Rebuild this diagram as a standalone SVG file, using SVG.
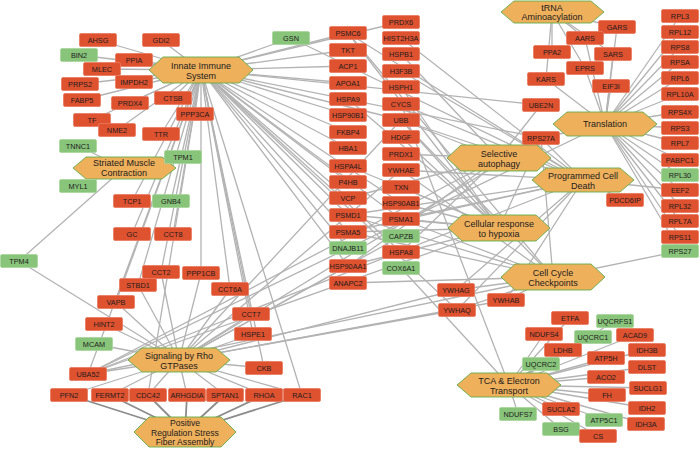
<svg xmlns="http://www.w3.org/2000/svg" width="700" height="449" viewBox="0 0 700 449">
<style>
.e line{stroke:#b3b3b3;stroke-width:1.3}
.e .d{stroke:#8c8c8c;stroke-width:1.8}
.r rect{fill:#df5230;stroke:#ea7a5e;stroke-width:.8}
.g rect{fill:#89c47b;stroke:#a8d69c;stroke-width:.8}
.h polygon{fill:#efb05c;stroke:#62ad48;stroke-width:.9}
text{font-family:"Liberation Sans",Arial,sans-serif;font-size:7.3px;text-anchor:middle;fill:#1c1c1c}
.h text{font-size:9px}
.h .s{font-size:8.6px}
</style>
<rect width="700" height="449" fill="#fff"/>
<g id="edges" class="e">
<line x1="201" y1="70" x2="98" y2="40"/><line x1="201" y1="70" x2="161" y2="40"/><line x1="201" y1="70" x2="79" y2="55"/><line x1="201" y1="70" x2="134" y2="60"/><line x1="201" y1="70" x2="102" y2="69"/><line x1="201" y1="70" x2="80" y2="84"/><line x1="201" y1="70" x2="134" y2="82"/><line x1="201" y1="70" x2="82" y2="100"/><line x1="201" y1="70" x2="130" y2="103"/><line x1="201" y1="70" x2="173" y2="98"/><line x1="201" y1="70" x2="92" y2="120"/><line x1="201" y1="70" x2="117" y2="130"/><line x1="201" y1="70" x2="161" y2="134"/><line x1="201" y1="70" x2="195" y2="114"/><line x1="201" y1="70" x2="291" y2="38"/><line x1="201" y1="70" x2="348" y2="33"/><line x1="201" y1="70" x2="348" y2="50"/><line x1="201" y1="70" x2="348" y2="66"/><line x1="201" y1="70" x2="348" y2="83"/><line x1="201" y1="70" x2="348" y2="115"/><line x1="201" y1="70" x2="348" y2="132"/><line x1="201" y1="70" x2="348" y2="148"/><line x1="201" y1="70" x2="401" y2="22"/><line x1="201" y1="70" x2="401" y2="252"/><line x1="201" y1="70" x2="348" y2="266"/><line x1="201" y1="70" x2="401" y2="203"/><line x1="201" y1="70" x2="348" y2="215"/><line x1="201" y1="70" x2="348" y2="232"/><line x1="201" y1="70" x2="401" y2="219"/><line x1="201" y1="70" x2="401" y2="120"/><line x1="201" y1="70" x2="348" y2="198"/><line x1="201" y1="70" x2="348" y2="182"/><line x1="201" y1="70" x2="348" y2="248"/><line x1="201" y1="70" x2="173" y2="234"/><line x1="201" y1="70" x2="161" y2="272"/><line x1="201" y1="70" x2="138" y2="285"/><line x1="201" y1="70" x2="132" y2="201"/><line x1="201" y1="70" x2="132" y2="234"/><line x1="201" y1="70" x2="171" y2="201"/><line x1="201" y1="70" x2="116" y2="302"/><line x1="201" y1="70" x2="201" y2="273"/><line x1="201" y1="70" x2="230" y2="289"/><line x1="201" y1="70" x2="264" y2="368"/><line x1="201" y1="70" x2="302" y2="395"/><line x1="201" y1="70" x2="148" y2="395"/><line x1="201" y1="70" x2="88" y2="374"/><line x1="201" y1="70" x2="457" y2="310"/><line x1="201" y1="70" x2="251" y2="314"/><line x1="201" y1="70" x2="253" y2="334"/><line x1="201" y1="70" x2="541" y2="138"/><line x1="201" y1="70" x2="541" y2="105"/>
<line x1="124" y1="168" x2="78" y2="146"/><line x1="124" y1="168" x2="183" y2="157"/><line x1="124" y1="168" x2="78" y2="186"/><line x1="124" y1="168" x2="19" y2="261"/>
<line x1="179" y1="360" x2="19" y2="261"/><line x1="179" y1="360" x2="116" y2="302"/><line x1="179" y1="360" x2="104" y2="324"/><line x1="179" y1="360" x2="94" y2="344"/><line x1="179" y1="360" x2="88" y2="374"/><line x1="179" y1="360" x2="69" y2="395"/><line x1="179" y1="360" x2="148" y2="395"/><line x1="179" y1="360" x2="187" y2="395"/><line x1="179" y1="360" x2="264" y2="395"/><line x1="179" y1="360" x2="302" y2="395"/><line x1="179" y1="360" x2="264" y2="368"/><line x1="179" y1="360" x2="251" y2="314"/><line x1="179" y1="360" x2="253" y2="334"/><line x1="179" y1="360" x2="230" y2="289"/><line x1="179" y1="360" x2="201" y2="273"/><line x1="179" y1="360" x2="138" y2="285"/><line x1="179" y1="360" x2="506" y2="300"/><line x1="179" y1="360" x2="401" y2="170"/><line x1="179" y1="360" x2="456" y2="290"/><line x1="179" y1="360" x2="457" y2="310"/><line x1="179" y1="360" x2="541" y2="138"/><line x1="179" y1="360" x2="401" y2="120"/><line x1="179" y1="360" x2="348" y2="266"/><line x1="179" y1="360" x2="401" y2="236"/><line x1="179" y1="360" x2="161" y2="272"/><line x1="179" y1="360" x2="225" y2="395"/><line x1="179" y1="360" x2="110" y2="395"/>
<line class="d" x1="185" y1="432" x2="69" y2="395"/><line class="d" x1="185" y1="432" x2="110" y2="395"/><line class="d" x1="185" y1="432" x2="148" y2="395"/><line class="d" x1="185" y1="432" x2="187" y2="395"/><line class="d" x1="185" y1="432" x2="225" y2="395"/><line class="d" x1="185" y1="432" x2="264" y2="395"/><line class="d" x1="185" y1="432" x2="302" y2="395"/>
<line x1="605" y1="124" x2="680" y2="16"/><line x1="605" y1="124" x2="680" y2="32"/><line x1="605" y1="124" x2="680" y2="47"/><line x1="605" y1="124" x2="680" y2="62"/><line x1="605" y1="124" x2="680" y2="78"/><line x1="605" y1="124" x2="680" y2="94"/><line x1="605" y1="124" x2="680" y2="112"/><line x1="605" y1="124" x2="680" y2="128"/><line x1="605" y1="124" x2="680" y2="143"/><line x1="605" y1="124" x2="680" y2="160"/><line x1="605" y1="124" x2="680" y2="175"/><line x1="605" y1="124" x2="680" y2="190"/><line x1="605" y1="124" x2="680" y2="206"/><line x1="605" y1="124" x2="680" y2="221"/><line x1="605" y1="124" x2="680" y2="237"/><line x1="605" y1="124" x2="680" y2="251"/><line x1="605" y1="124" x2="541" y2="138"/><line x1="605" y1="124" x2="88" y2="374"/><line x1="605" y1="124" x2="611" y2="86"/><line x1="605" y1="124" x2="617" y2="27"/><line x1="605" y1="124" x2="585" y2="38"/><line x1="605" y1="124" x2="613" y2="54"/><line x1="605" y1="124" x2="585" y2="68"/><line x1="605" y1="124" x2="546" y2="79"/>
<line x1="552" y1="12" x2="617" y2="27"/><line x1="552" y1="12" x2="585" y2="38"/><line x1="552" y1="12" x2="552" y2="52"/><line x1="552" y1="12" x2="613" y2="54"/><line x1="552" y1="12" x2="585" y2="68"/><line x1="552" y1="12" x2="546" y2="79"/>
<line x1="499" y1="158" x2="401" y2="120"/><line x1="499" y1="158" x2="88" y2="374"/><line x1="499" y1="158" x2="541" y2="138"/><line x1="499" y1="158" x2="541" y2="105"/><line x1="499" y1="158" x2="348" y2="198"/><line x1="499" y1="158" x2="401" y2="252"/><line x1="499" y1="158" x2="348" y2="266"/><line x1="499" y1="158" x2="401" y2="154"/><line x1="499" y1="158" x2="401" y2="54"/>
<line x1="583" y1="180" x2="401" y2="104"/><line x1="583" y1="180" x2="401" y2="170"/><line x1="583" y1="180" x2="506" y2="300"/><line x1="583" y1="180" x2="456" y2="290"/><line x1="583" y1="180" x2="457" y2="310"/><line x1="583" y1="180" x2="401" y2="120"/><line x1="583" y1="180" x2="88" y2="374"/><line x1="583" y1="180" x2="541" y2="138"/><line x1="583" y1="180" x2="401" y2="219"/><line x1="583" y1="180" x2="348" y2="232"/><line x1="583" y1="180" x2="348" y2="215"/><line x1="583" y1="180" x2="348" y2="33"/><line x1="583" y1="180" x2="291" y2="38"/><line x1="583" y1="180" x2="625" y2="200"/><line x1="583" y1="180" x2="401" y2="71"/><line x1="583" y1="180" x2="401" y2="38"/><line x1="583" y1="180" x2="680" y2="190"/>
<line x1="499" y1="228" x2="401" y2="120"/><line x1="499" y1="228" x2="88" y2="374"/><line x1="499" y1="228" x2="541" y2="138"/><line x1="499" y1="228" x2="401" y2="219"/><line x1="499" y1="228" x2="348" y2="232"/><line x1="499" y1="228" x2="348" y2="215"/><line x1="499" y1="228" x2="348" y2="33"/><line x1="499" y1="228" x2="348" y2="266"/><line x1="499" y1="228" x2="401" y2="203"/><line x1="499" y1="228" x2="401" y2="187"/><line x1="499" y1="228" x2="401" y2="87"/><line x1="499" y1="228" x2="348" y2="99"/><line x1="499" y1="228" x2="401" y2="137"/><line x1="499" y1="228" x2="348" y2="166"/>
<line x1="553" y1="277" x2="506" y2="300"/><line x1="553" y1="277" x2="401" y2="170"/><line x1="553" y1="277" x2="456" y2="290"/><line x1="553" y1="277" x2="457" y2="310"/><line x1="553" y1="277" x2="348" y2="283"/><line x1="553" y1="277" x2="401" y2="120"/><line x1="553" y1="277" x2="88" y2="374"/><line x1="553" y1="277" x2="541" y2="138"/><line x1="553" y1="277" x2="401" y2="219"/><line x1="553" y1="277" x2="348" y2="232"/><line x1="553" y1="277" x2="348" y2="215"/><line x1="553" y1="277" x2="348" y2="33"/><line x1="553" y1="277" x2="680" y2="251"/>
<line x1="509" y1="385" x2="570" y2="318"/><line x1="509" y1="385" x2="615" y2="321"/><line x1="509" y1="385" x2="544" y2="334"/><line x1="509" y1="385" x2="593" y2="337"/><line x1="509" y1="385" x2="635" y2="335"/><line x1="509" y1="385" x2="563" y2="350"/><line x1="509" y1="385" x2="647" y2="350"/><line x1="509" y1="385" x2="606" y2="358"/><line x1="509" y1="385" x2="541" y2="364"/><line x1="509" y1="385" x2="647" y2="367"/><line x1="509" y1="385" x2="606" y2="377"/><line x1="509" y1="385" x2="648" y2="388"/><line x1="509" y1="385" x2="607" y2="395"/><line x1="509" y1="385" x2="647" y2="408"/><line x1="509" y1="385" x2="561" y2="409"/><line x1="509" y1="385" x2="604" y2="420"/><line x1="509" y1="385" x2="646" y2="424"/><line x1="509" y1="385" x2="561" y2="429"/><line x1="509" y1="385" x2="598" y2="436"/><line x1="509" y1="385" x2="518" y2="414"/><line x1="509" y1="385" x2="401" y2="268"/><line x1="509" y1="385" x2="401" y2="104"/>
</g>
<g id="innate-immune-system" class="h"><polygon points="149,70 163,57 239,57 253,70 239,83 163,83"/><text x="201" y="69">Innate Immune</text><text x="201" y="79">System</text></g>
<g id="striated-muscle-contraction" class="h"><polygon points="73,168 86,157 162,157 176,168 162,179 86,179"/><text x="124" y="166">Striated Muscle</text><text x="124" y="176">Contraction</text></g>
<g id="trna-aminoacylation" class="h"><polygon points="501,12 514,1 591,1 604,12 591,23 514,23"/><text x="552" y="10.5">tRNA</text><text x="552" y="20">Aminoacylation</text></g>
<g id="translation" class="h"><polygon points="553,124 567,112 643,112 657,124 643,136 567,136"/><text x="605" y="127">Translation</text></g>
<g id="selective-autophagy" class="h"><polygon points="447,158 461,145 537,145 551,158 537,171 461,171"/><text x="499" y="156.5">Selective</text><text x="499" y="166.5">autophagy</text></g>
<g id="programmed-cell-death" class="h"><polygon points="532,180 546,168 620,168 634,180 620,192 546,192"/><text x="583" y="178.5">Programmed Cell</text><text x="583" y="188.5">Death</text></g>
<g id="cellular-response-to-hypoxia" class="h"><polygon points="448,228 462,215 536,215 550,228 536,241 462,241"/><text x="499" y="226.5">Cellular response</text><text x="499" y="236.5">to hypoxia</text></g>
<g id="cell-cycle-checkpoints" class="h"><polygon points="501,277 515,264 591,264 605,277 591,290 515,290"/><text x="553" y="275.5">Cell Cycle</text><text x="553" y="285.5">Checkpoints</text></g>
<g id="signaling-by-rho-gtpases" class="h"><polygon points="128,360 142,348 216,348 230,360 216,372 142,372"/><text x="179" y="358.5">Signaling by Rho</text><text x="179" y="368.5">GTPases</text></g>
<g id="positive-regulation-stress-fiber-assembly" class="h"><polygon points="134,432 149,417 221,417 236,432 221,447 149,447"/><text class="s" x="185" y="426">Positive</text><text class="s" x="185" y="435.5">Regulation Stress</text><text class="s" x="185" y="445">Fiber Assembly</text></g>
<g id="tca-electron-transport" class="h"><polygon points="457,385 471,373 547,373 561,385 547,397 471,397"/><text x="509" y="383.5">TCA &amp; Electron</text><text x="509" y="393.5">Transport</text></g>
<g id="AHSG" class="r"><rect x="79.5" y="33.5" width="37" height="13" rx="1.5"/><text x="98" y="42.6">AHSG</text></g>
<g id="GDI2" class="r"><rect x="142.5" y="33.5" width="37" height="13" rx="1.5"/><text x="161" y="42.6">GDI2</text></g>
<g id="BIN2" class="g"><rect x="60.5" y="48.5" width="37" height="13" rx="1.5"/><text x="79" y="57.6">BIN2</text></g>
<g id="PPIA" class="r"><rect x="115.5" y="53.5" width="37" height="13" rx="1.5"/><text x="134" y="62.6">PPIA</text></g>
<g id="MLEC" class="r"><rect x="83.5" y="62.5" width="37" height="13" rx="1.5"/><text x="102" y="71.6">MLEC</text></g>
<g id="PRPS2" class="r"><rect x="61.5" y="77.5" width="37" height="13" rx="1.5"/><text x="80" y="86.6">PRPS2</text></g>
<g id="IMPDH2" class="r"><rect x="115.5" y="75.5" width="37" height="13" rx="1.5"/><text x="134" y="84.6">IMPDH2</text></g>
<g id="FABP5" class="r"><rect x="63.5" y="93.5" width="37" height="13" rx="1.5"/><text x="82" y="102.6">FABP5</text></g>
<g id="PRDX4" class="r"><rect x="111.5" y="96.5" width="37" height="13" rx="1.5"/><text x="130" y="105.6">PRDX4</text></g>
<g id="CTSB" class="r"><rect x="154.5" y="91.5" width="37" height="13" rx="1.5"/><text x="173" y="100.6">CTSB</text></g>
<g id="TF" class="r"><rect x="73.5" y="113.5" width="37" height="13" rx="1.5"/><text x="92" y="122.6">TF</text></g>
<g id="NME2" class="r"><rect x="98.5" y="123.5" width="37" height="13" rx="1.5"/><text x="117" y="132.6">NME2</text></g>
<g id="TTR" class="r"><rect x="142.5" y="127.5" width="37" height="13" rx="1.5"/><text x="161" y="136.6">TTR</text></g>
<g id="PPP3CA" class="r"><rect x="176.5" y="107.5" width="37" height="13" rx="1.5"/><text x="195" y="116.6">PPP3CA</text></g>
<g id="GSN" class="g"><rect x="272.5" y="31.5" width="37" height="13" rx="1.5"/><text x="291" y="40.6">GSN</text></g>
<g id="TNNC1" class="g"><rect x="59.5" y="139.5" width="37" height="13" rx="1.5"/><text x="78" y="148.6">TNNC1</text></g>
<g id="TPM1" class="g"><rect x="164.5" y="150.5" width="37" height="13" rx="1.5"/><text x="183" y="159.6">TPM1</text></g>
<g id="MYL1" class="g"><rect x="59.5" y="179.5" width="37" height="13" rx="1.5"/><text x="78" y="188.6">MYL1</text></g>
<g id="TCP1" class="r"><rect x="113.5" y="194.5" width="37" height="13" rx="1.5"/><text x="132" y="203.6">TCP1</text></g>
<g id="GNB4" class="g"><rect x="152.5" y="194.5" width="37" height="13" rx="1.5"/><text x="171" y="203.6">GNB4</text></g>
<g id="GC" class="r"><rect x="113.5" y="227.5" width="37" height="13" rx="1.5"/><text x="132" y="236.6">GC</text></g>
<g id="CCT8" class="r"><rect x="154.5" y="227.5" width="37" height="13" rx="1.5"/><text x="173" y="236.6">CCT8</text></g>
<g id="TPM4" class="g"><rect x="0.5" y="254.5" width="37" height="13" rx="1.5"/><text x="19" y="263.6">TPM4</text></g>
<g id="CCT2" class="r"><rect x="142.5" y="265.5" width="37" height="13" rx="1.5"/><text x="161" y="274.6">CCT2</text></g>
<g id="PPP1CB" class="r"><rect x="182.5" y="266.5" width="37" height="13" rx="1.5"/><text x="201" y="275.6">PPP1CB</text></g>
<g id="STBD1" class="r"><rect x="119.5" y="278.5" width="37" height="13" rx="1.5"/><text x="138" y="287.6">STBD1</text></g>
<g id="CCT6A" class="r"><rect x="211.5" y="282.5" width="37" height="13" rx="1.5"/><text x="230" y="291.6">CCT6A</text></g>
<g id="VAPB" class="r"><rect x="97.5" y="295.5" width="37" height="13" rx="1.5"/><text x="116" y="304.6">VAPB</text></g>
<g id="HINT2" class="r"><rect x="85.5" y="317.5" width="37" height="13" rx="1.5"/><text x="104" y="326.6">HINT2</text></g>
<g id="MCAM" class="g"><rect x="75.5" y="337.5" width="37" height="13" rx="1.5"/><text x="94" y="346.6">MCAM</text></g>
<g id="UBA52" class="r"><rect x="69.5" y="367.5" width="37" height="13" rx="1.5"/><text x="88" y="376.6">UBA52</text></g>
<g id="CCT7" class="r"><rect x="232.5" y="307.5" width="37" height="13" rx="1.5"/><text x="251" y="316.6">CCT7</text></g>
<g id="HSPE1" class="r"><rect x="234.5" y="327.5" width="37" height="13" rx="1.5"/><text x="253" y="336.6">HSPE1</text></g>
<g id="CKB" class="r"><rect x="245.5" y="361.5" width="37" height="13" rx="1.5"/><text x="264" y="370.6">CKB</text></g>
<g id="PFN2" class="r"><rect x="50.5" y="388.5" width="37" height="13" rx="1.5"/><text x="69" y="397.6">PFN2</text></g>
<g id="FERMT2" class="r"><rect x="91.5" y="388.5" width="37" height="13" rx="1.5"/><text x="110" y="397.6">FERMT2</text></g>
<g id="CDC42" class="r"><rect x="129.5" y="388.5" width="37" height="13" rx="1.5"/><text x="148" y="397.6">CDC42</text></g>
<g id="ARHGDIA" class="r"><rect x="168.5" y="388.5" width="37" height="13" rx="1.5"/><text x="187" y="397.6">ARHGDIA</text></g>
<g id="SPTAN1" class="r"><rect x="206.5" y="388.5" width="37" height="13" rx="1.5"/><text x="225" y="397.6">SPTAN1</text></g>
<g id="RHOA" class="r"><rect x="245.5" y="388.5" width="37" height="13" rx="1.5"/><text x="264" y="397.6">RHOA</text></g>
<g id="RAC1" class="r"><rect x="283.5" y="388.5" width="37" height="13" rx="1.5"/><text x="302" y="397.6">RAC1</text></g>
<g id="PSMC6" class="r"><rect x="329.5" y="26.5" width="37" height="13" rx="1.5"/><text x="348" y="35.6">PSMC6</text></g>
<g id="TKT" class="r"><rect x="329.5" y="43.5" width="37" height="13" rx="1.5"/><text x="348" y="52.6">TKT</text></g>
<g id="ACP1" class="r"><rect x="329.5" y="59.5" width="37" height="13" rx="1.5"/><text x="348" y="68.6">ACP1</text></g>
<g id="APOA1" class="r"><rect x="329.5" y="76.5" width="37" height="13" rx="1.5"/><text x="348" y="85.6">APOA1</text></g>
<g id="HSPA9" class="r"><rect x="329.5" y="92.5" width="37" height="13" rx="1.5"/><text x="348" y="101.6">HSPA9</text></g>
<g id="HSP90B1" class="r"><rect x="329.5" y="108.5" width="37" height="13" rx="1.5"/><text x="348" y="117.6">HSP90B1</text></g>
<g id="FKBP4" class="r"><rect x="329.5" y="125.5" width="37" height="13" rx="1.5"/><text x="348" y="134.6">FKBP4</text></g>
<g id="HBA1" class="r"><rect x="329.5" y="141.5" width="37" height="13" rx="1.5"/><text x="348" y="150.6">HBA1</text></g>
<g id="HSPA4L" class="r"><rect x="329.5" y="159.5" width="37" height="13" rx="1.5"/><text x="348" y="168.6">HSPA4L</text></g>
<g id="P4HB" class="r"><rect x="329.5" y="175.5" width="37" height="13" rx="1.5"/><text x="348" y="184.6">P4HB</text></g>
<g id="VCP" class="r"><rect x="329.5" y="191.5" width="37" height="13" rx="1.5"/><text x="348" y="200.6">VCP</text></g>
<g id="PSMD1" class="r"><rect x="329.5" y="208.5" width="37" height="13" rx="1.5"/><text x="348" y="217.6">PSMD1</text></g>
<g id="PSMA5" class="r"><rect x="329.5" y="225.5" width="37" height="13" rx="1.5"/><text x="348" y="234.6">PSMA5</text></g>
<g id="DNAJB11" class="g"><rect x="329.5" y="241.5" width="37" height="13" rx="1.5"/><text x="348" y="250.6">DNAJB11</text></g>
<g id="HSP90AA1" class="r"><rect x="329.5" y="259.5" width="37" height="13" rx="1.5"/><text x="348" y="268.6">HSP90AA1</text></g>
<g id="ANAPC2" class="r"><rect x="329.5" y="276.5" width="37" height="13" rx="1.5"/><text x="348" y="285.6">ANAPC2</text></g>
<g id="PRDX6" class="r"><rect x="382.5" y="15.5" width="37" height="13" rx="1.5"/><text x="401" y="24.6">PRDX6</text></g>
<g id="HIST2H3A" class="r"><rect x="382.5" y="31.5" width="37" height="13" rx="1.5"/><text x="401" y="40.6">HIST2H3A</text></g>
<g id="HSPB1" class="r"><rect x="382.5" y="47.5" width="37" height="13" rx="1.5"/><text x="401" y="56.6">HSPB1</text></g>
<g id="H3F3B" class="r"><rect x="382.5" y="64.5" width="37" height="13" rx="1.5"/><text x="401" y="73.6">H3F3B</text></g>
<g id="HSPH1" class="r"><rect x="382.5" y="80.5" width="37" height="13" rx="1.5"/><text x="401" y="89.6">HSPH1</text></g>
<g id="CYCS" class="r"><rect x="382.5" y="97.5" width="37" height="13" rx="1.5"/><text x="401" y="106.6">CYCS</text></g>
<g id="UBB" class="r"><rect x="382.5" y="113.5" width="37" height="13" rx="1.5"/><text x="401" y="122.6">UBB</text></g>
<g id="HDGF" class="r"><rect x="382.5" y="130.5" width="37" height="13" rx="1.5"/><text x="401" y="139.6">HDGF</text></g>
<g id="PRDX1" class="r"><rect x="382.5" y="147.5" width="37" height="13" rx="1.5"/><text x="401" y="156.6">PRDX1</text></g>
<g id="YWHAE" class="r"><rect x="382.5" y="163.5" width="37" height="13" rx="1.5"/><text x="401" y="172.6">YWHAE</text></g>
<g id="TXN" class="r"><rect x="382.5" y="180.5" width="37" height="13" rx="1.5"/><text x="401" y="189.6">TXN</text></g>
<g id="HSP90AB1" class="r"><rect x="382.5" y="196.5" width="37" height="13" rx="1.5"/><text x="401" y="205.6">HSP90AB1</text></g>
<g id="PSMA1" class="r"><rect x="382.5" y="212.5" width="37" height="13" rx="1.5"/><text x="401" y="221.6">PSMA1</text></g>
<g id="CAPZB" class="g"><rect x="382.5" y="229.5" width="37" height="13" rx="1.5"/><text x="401" y="238.6">CAPZB</text></g>
<g id="HSPA8" class="r"><rect x="382.5" y="245.5" width="37" height="13" rx="1.5"/><text x="401" y="254.6">HSPA8</text></g>
<g id="COX6A1" class="g"><rect x="382.5" y="261.5" width="37" height="13" rx="1.5"/><text x="401" y="270.6">COX6A1</text></g>
<g id="YWHAG" class="r"><rect x="437.5" y="283.5" width="37" height="13" rx="1.5"/><text x="456" y="292.6">YWHAG</text></g>
<g id="YWHAB" class="r"><rect x="487.5" y="293.5" width="37" height="13" rx="1.5"/><text x="506" y="302.6">YWHAB</text></g>
<g id="YWHAQ" class="r"><rect x="438.5" y="303.5" width="37" height="13" rx="1.5"/><text x="457" y="312.6">YWHAQ</text></g>
<g id="UBE2N" class="r"><rect x="522.5" y="98.5" width="37" height="13" rx="1.5"/><text x="541" y="107.6">UBE2N</text></g>
<g id="RPS27A" class="r"><rect x="522.5" y="131.5" width="37" height="13" rx="1.5"/><text x="541" y="140.6">RPS27A</text></g>
<g id="PDCD6IP" class="r"><rect x="606.5" y="193.5" width="37" height="13" rx="1.5"/><text x="625" y="202.6">PDCD6IP</text></g>
<g id="GARS" class="r"><rect x="598.5" y="20.5" width="37" height="13" rx="1.5"/><text x="617" y="29.6">GARS</text></g>
<g id="AARS" class="r"><rect x="566.5" y="31.5" width="37" height="13" rx="1.5"/><text x="585" y="40.6">AARS</text></g>
<g id="PPA2" class="r"><rect x="533.5" y="45.5" width="37" height="13" rx="1.5"/><text x="552" y="54.6">PPA2</text></g>
<g id="SARS" class="r"><rect x="594.5" y="47.5" width="37" height="13" rx="1.5"/><text x="613" y="56.6">SARS</text></g>
<g id="EPRS" class="r"><rect x="566.5" y="61.5" width="37" height="13" rx="1.5"/><text x="585" y="70.6">EPRS</text></g>
<g id="KARS" class="r"><rect x="527.5" y="72.5" width="37" height="13" rx="1.5"/><text x="546" y="81.6">KARS</text></g>
<g id="EIF3I" class="r"><rect x="592.5" y="79.5" width="37" height="13" rx="1.5"/><text x="611" y="88.6">EIF3I</text></g>
<g id="RPL3" class="r"><rect x="661.5" y="9.5" width="37" height="13" rx="1.5"/><text x="680" y="18.6">RPL3</text></g>
<g id="RPL12" class="r"><rect x="661.5" y="25.5" width="37" height="13" rx="1.5"/><text x="680" y="34.6">RPL12</text></g>
<g id="RPS8" class="r"><rect x="661.5" y="40.5" width="37" height="13" rx="1.5"/><text x="680" y="49.6">RPS8</text></g>
<g id="RPSA" class="r"><rect x="661.5" y="55.5" width="37" height="13" rx="1.5"/><text x="680" y="64.6">RPSA</text></g>
<g id="RPL6" class="r"><rect x="661.5" y="71.5" width="37" height="13" rx="1.5"/><text x="680" y="80.6">RPL6</text></g>
<g id="RPL10A" class="r"><rect x="661.5" y="87.5" width="37" height="13" rx="1.5"/><text x="680" y="96.6">RPL10A</text></g>
<g id="RPS4X" class="r"><rect x="661.5" y="105.5" width="37" height="13" rx="1.5"/><text x="680" y="114.6">RPS4X</text></g>
<g id="RPS3" class="r"><rect x="661.5" y="121.5" width="37" height="13" rx="1.5"/><text x="680" y="130.6">RPS3</text></g>
<g id="RPL7" class="r"><rect x="661.5" y="136.5" width="37" height="13" rx="1.5"/><text x="680" y="145.6">RPL7</text></g>
<g id="PABPC1" class="r"><rect x="661.5" y="153.5" width="37" height="13" rx="1.5"/><text x="680" y="162.6">PABPC1</text></g>
<g id="RPL30" class="g"><rect x="661.5" y="168.5" width="37" height="13" rx="1.5"/><text x="680" y="177.6">RPL30</text></g>
<g id="EEF2" class="r"><rect x="661.5" y="183.5" width="37" height="13" rx="1.5"/><text x="680" y="192.6">EEF2</text></g>
<g id="RPL32" class="r"><rect x="661.5" y="199.5" width="37" height="13" rx="1.5"/><text x="680" y="208.6">RPL32</text></g>
<g id="RPL7A" class="r"><rect x="661.5" y="214.5" width="37" height="13" rx="1.5"/><text x="680" y="223.6">RPL7A</text></g>
<g id="RPS11" class="r"><rect x="661.5" y="230.5" width="37" height="13" rx="1.5"/><text x="680" y="239.6">RPS11</text></g>
<g id="RPS27" class="g"><rect x="661.5" y="244.5" width="37" height="13" rx="1.5"/><text x="680" y="253.6">RPS27</text></g>
<g id="ETFA" class="r"><rect x="551.5" y="311.5" width="37" height="13" rx="1.5"/><text x="570" y="320.6">ETFA</text></g>
<g id="UQCRFS1" class="g"><rect x="596.5" y="314.5" width="37" height="13" rx="1.5"/><text x="615" y="323.6">UQCRFS1</text></g>
<g id="NDUFS4" class="r"><rect x="525.5" y="327.5" width="37" height="13" rx="1.5"/><text x="544" y="336.6">NDUFS4</text></g>
<g id="UQCRC1" class="g"><rect x="574.5" y="330.5" width="37" height="13" rx="1.5"/><text x="593" y="339.6">UQCRC1</text></g>
<g id="ACAD9" class="r"><rect x="616.5" y="328.5" width="37" height="13" rx="1.5"/><text x="635" y="337.6">ACAD9</text></g>
<g id="LDHB" class="r"><rect x="544.5" y="343.5" width="37" height="13" rx="1.5"/><text x="563" y="352.6">LDHB</text></g>
<g id="IDH3B" class="r"><rect x="628.5" y="343.5" width="37" height="13" rx="1.5"/><text x="647" y="352.6">IDH3B</text></g>
<g id="ATP5H" class="r"><rect x="587.5" y="351.5" width="37" height="13" rx="1.5"/><text x="606" y="360.6">ATP5H</text></g>
<g id="UQCRC2" class="g"><rect x="522.5" y="357.5" width="37" height="13" rx="1.5"/><text x="541" y="366.6">UQCRC2</text></g>
<g id="DLST" class="r"><rect x="628.5" y="360.5" width="37" height="13" rx="1.5"/><text x="647" y="369.6">DLST</text></g>
<g id="ACO2" class="r"><rect x="587.5" y="370.5" width="37" height="13" rx="1.5"/><text x="606" y="379.6">ACO2</text></g>
<g id="SUCLG1" class="r"><rect x="629.5" y="381.5" width="37" height="13" rx="1.5"/><text x="648" y="390.6">SUCLG1</text></g>
<g id="FH" class="r"><rect x="588.5" y="388.5" width="37" height="13" rx="1.5"/><text x="607" y="397.6">FH</text></g>
<g id="IDH2" class="r"><rect x="628.5" y="401.5" width="37" height="13" rx="1.5"/><text x="647" y="410.6">IDH2</text></g>
<g id="SUCLA2" class="r"><rect x="542.5" y="402.5" width="37" height="13" rx="1.5"/><text x="561" y="411.6">SUCLA2</text></g>
<g id="ATP5C1" class="g"><rect x="585.5" y="413.5" width="37" height="13" rx="1.5"/><text x="604" y="422.6">ATP5C1</text></g>
<g id="IDH3A" class="r"><rect x="627.5" y="417.5" width="37" height="13" rx="1.5"/><text x="646" y="426.6">IDH3A</text></g>
<g id="BSG" class="g"><rect x="542.5" y="422.5" width="37" height="13" rx="1.5"/><text x="561" y="431.6">BSG</text></g>
<g id="CS" class="r"><rect x="579.5" y="429.5" width="37" height="13" rx="1.5"/><text x="598" y="438.6">CS</text></g>
<g id="NDUFS7" class="g"><rect x="499.5" y="407.5" width="37" height="13" rx="1.5"/><text x="518" y="416.6">NDUFS7</text></g>
</svg>
